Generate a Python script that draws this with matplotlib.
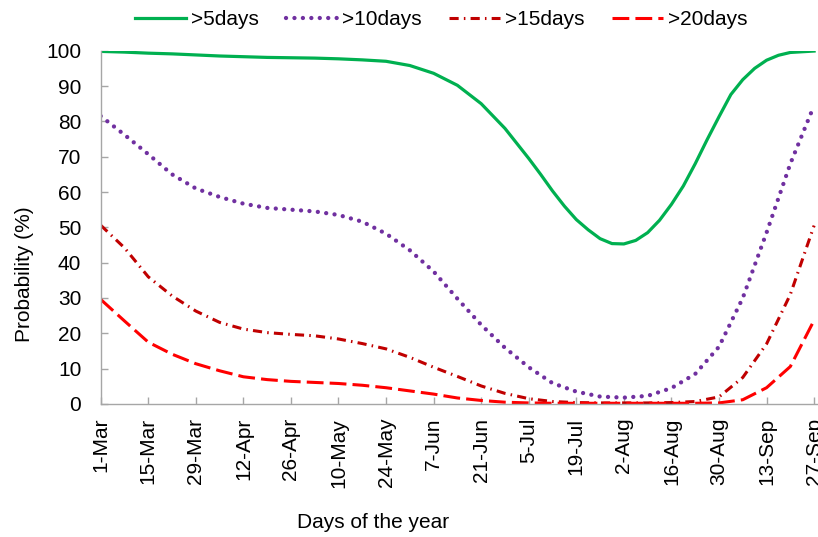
import numpy as np
import matplotlib
matplotlib.use("Agg")
import matplotlib.pyplot as plt

plt.rcParams['font.family'] = ['Liberation Sans', 'DejaVu Sans']

# days counted from 1 March, one value per week
days = np.arange(0, 211, 7)

# >5days has a sharp trough, so it is sampled twice a week after mid-June
days5 = [0, 7, 14, 21, 28, 35, 42, 49, 56, 63, 70, 77, 84, 91, 98, 105,
         112, 119, 126, 129.5, 133, 136.5, 140, 143.5, 147, 150.5, 154,
         157.5, 161, 164.5, 168, 171.5, 175, 178.5, 182, 185.5, 189,
         192.5, 196, 199.5, 203, 210]
p5 = [99.8, 99.6, 99.3, 99.1, 98.8, 98.5, 98.3, 98.1, 98.0, 97.9, 97.7,
      97.4, 97.0, 95.8, 93.6, 90.2, 85.0, 78.0, 69.5, 65.0, 60.3, 56.0,
      52.2, 49.3, 46.8, 45.4, 45.3, 46.3, 48.5, 52.0, 56.5, 61.7, 68.0,
      74.8, 81.3, 87.6, 91.8, 95.0, 97.3, 98.7, 99.5, 99.9]
p10 = [81.5, 76.2, 70.7, 65.0, 61.0, 58.6, 56.7, 55.5, 55.0, 54.5, 53.5,
       51.6, 48.2, 43.5, 37.5, 29.8, 22.4, 15.9, 10.4, 5.9, 3.5, 2.1,
       1.8, 2.3, 4.5, 8.5, 16.2, 30.0, 48.5, 68.0, 84.5]
p15 = [50.6, 44.2, 36.0, 30.6, 26.3, 23.1, 21.2, 20.2, 19.7, 19.3, 18.4,
       17.1, 15.6, 13.2, 10.4, 7.8, 5.1, 3.0, 1.5, 0.7, 0.4, 0.3,
       0.3, 0.3, 0.4, 0.7, 2.0, 7.5, 17.0, 31.0, 50.5]
p20 = [29.6, 23.5, 17.5, 14.1, 11.4, 9.4, 7.7, 6.9, 6.4, 6.1, 5.8,
       5.3, 4.6, 3.7, 2.8, 1.7, 1.0, 0.5, 0.3, 0.2, 0.2, 0.2,
       0.2, 0.2, 0.2, 0.2, 0.3, 1.2, 4.6, 10.6, 23.7]

tick_days = np.arange(0, 211, 14)
tick_labels = ['1-Mar', '15-Mar', '29-Mar', '12-Apr', '26-Apr', '10-May',
               '24-May', '7-Jun', '21-Jun', '5-Jul', '19-Jul', '2-Aug',
               '16-Aug', '30-Aug', '13-Sep', '27-Sep']

fig = plt.figure(figsize=(8.18, 5.37), dpi=100)
ax = fig.add_axes([0.1231, 0.2477, 0.8846, 0.6579])

ax.plot(days5, p5, color='#00B050', lw=2.3, label='>5days')
ax.plot(days, p10, color='#7030A0', lw=3.1, dashes=(0.01, 1.95),
        dash_capstyle='round', label='>10days')
ax.plot(days, p15, color='#C00000', lw=2.2, dashes=(3, 1.7, 0.5, 1.7),
        label='>15days')
ax.plot(days, p20, color='#FF0000', lw=2.2, dashes=(5.5, 2.0),
        label='>20days')

ax.set_xlim(0, 213)
ax.set_ylim(0, 100)
ax.set_yticks(np.arange(0, 101, 10))
ax.set_xticks(tick_days)
ax.set_xticklabels(tick_labels, rotation=90)

for s in ['top', 'right']:
    ax.spines[s].set_visible(False)
for s in ['left', 'bottom']:
    ax.spines[s].set_color('#A6A6A6')
    ax.spines[s].set_linewidth(1.0)
ax.tick_params(axis='both', direction='in', length=5, width=1,
               color='#A6A6A6', labelsize=15)
ax.tick_params(axis='y', pad=14)
ax.tick_params(axis='x', pad=10)

fig.text(373 / 818, 1 - 522 / 537, 'Days of the year', ha='center',
         va='center', fontsize=15)
fig.text(24 / 818, 1 - 274 / 537, 'Probability (%)', ha='center',
         va='center', rotation=90, fontsize=15)

fig.legend(loc='center', bbox_to_anchor=(0.539, 0.964), ncol=4,
           frameon=False, fontsize=15, handlelength=2.45,
           handletextpad=0.25, columnspacing=1.3)

fig.savefig('out.png', dpi=100)
